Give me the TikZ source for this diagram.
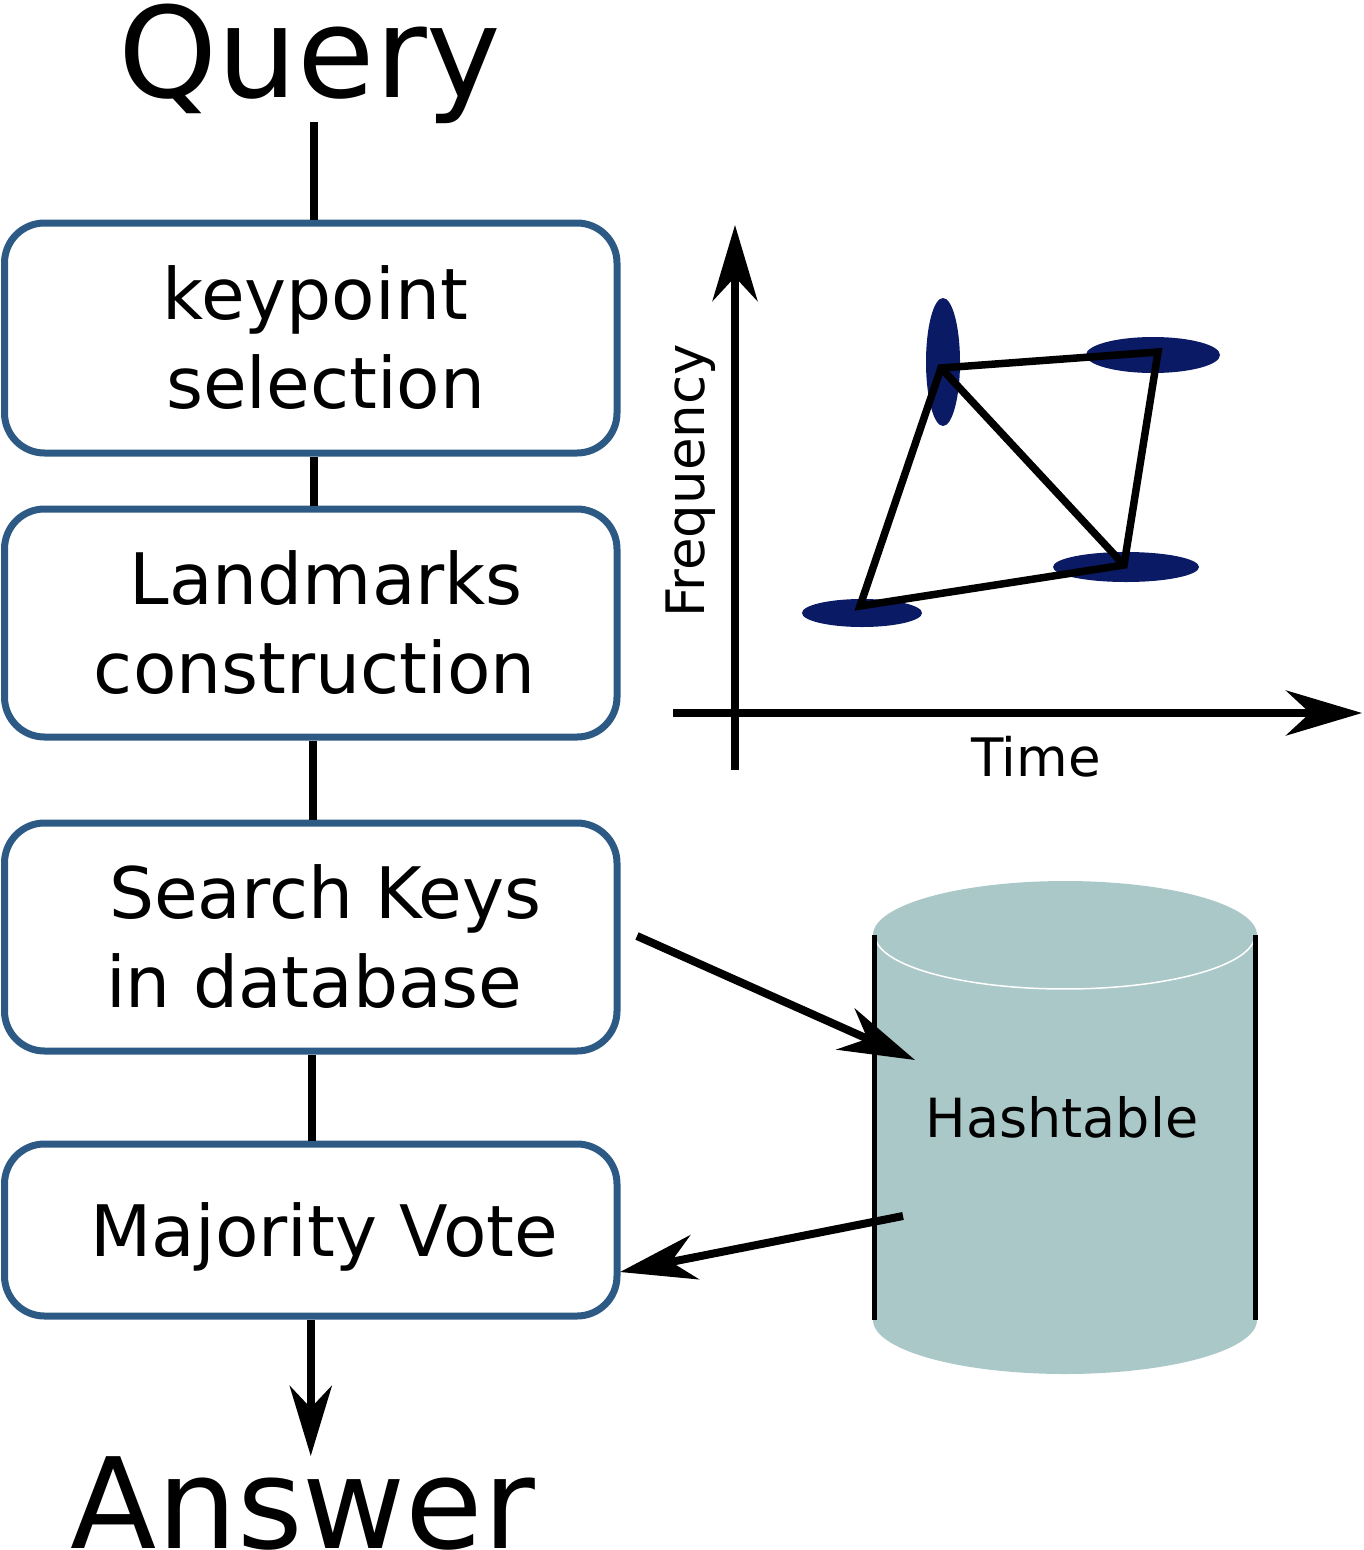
\documentclass[tikz,border=0pt]{standalone}
\usepackage{fontspec}
\setmainfont{DejaVu Sans}
\usetikzlibrary{arrows.meta,shapes.geometric}
\definecolor{boxblue}{HTML}{2D5A85}
\definecolor{navy}{HTML}{0A1A64}
\definecolor{cyl}{HTML}{ABC8C8}
\tikzset{
  stepbox/.style={draw=boxblue, line width=7pt, rounded corners=40pt, minimum width=612.5pt, inner sep=0pt, align=center,
    font=\fontsize{71}{89}\selectfont},
  conn/.style={line width=8pt},
  arr/.style={line width=8pt, -{Stealth[length=76pt,width=45pt,inset=24pt]}},
  blob/.style={ellipse, fill=navy, inner sep=0pt},
  big/.style={font=\fontsize{126}{150}\selectfont, inner sep=0pt, anchor=base},
  small/.style={font=\fontsize{53}{64}\selectfont, inner sep=0pt, anchor=base},
}
\begin{document}
\begin{tikzpicture}[x=1pt,y=-1pt]
\useasboundingbox (0,0) rectangle (1363,1550);

% pipeline
\node[big] (query) at (310,97) {Query};
\node[big] (answer) at (303,1548) {Answer};
\node[stepbox, minimum height=230pt] (b1) at (310.75,338) {\hspace*{9pt}keypoint\\\hspace*{30pt}selection};
\node[stepbox, minimum height=228pt] (b2) at (310.75,623) {\hspace*{31pt}Landmarks\\\hspace*{8pt}construction};
\node[stepbox, minimum height=228pt] (b3) at (310.75,937) {\hspace*{29pt}Search Keys\\\hspace*{7pt}in database};
\node[stepbox, minimum height=172pt, text depth=0pt] (b4) at (310.75,1230) {\hspace*{27pt}Majority Vote};

\draw[conn] ([xshift=4pt,yshift=1pt]query.south) -- ([xshift=4pt]query.south |- b1.north);
\draw[conn] ([xshift=3pt]b1.south) -- ([xshift=3pt]b2.north);
\draw[conn] ([xshift=2pt]b2.south) -- ([xshift=2pt]b3.north);
\draw[conn] ([xshift=1pt]b3.south) -- ([xshift=1pt]b4.north);
\draw[line width=8pt, -{Stealth[length=70pt,width=42pt,inset=22pt]}] (b4.south) -- (b4.south |- answer.north);

% database cylinder
\fill[cyl] (873,935) -- (873,1320)
  -- plot[domain=0:180,samples=72] ({1065+192*cos(180-\x)},{1320+54*sin(\x)})
  -- (1257,935)
  -- plot[domain=0:180,samples=72] ({1065+192*cos(\x)},{935-54*sin(\x)})
  -- cycle;
\draw[white, line width=1.5pt] plot[domain=3:177,samples=72] ({1065+190*cos(180-\x)},{935+54*sin(\x)});
\draw[line width=4.3pt] (874.5,935) -- (874.5,1320);
\draw[line width=4.3pt] (1255.5,935) -- (1255.5,1320);
\node[small, font=\fontsize{54}{64}\selectfont] (hash) at (1062,1137) {Hashtable};

\coordinate (s3) at (637,936);
\coordinate (kin) at (915,1060);
\coordinate (kout) at (903,1216);
\coordinate (v4) at (620,1272);
\draw[arr] (s3) -- (kin);
\draw[arr] (kout) -- (v4);

% spectrogram plot
\coordinate (yb) at (735,770);
\coordinate (yt) at (735,225);
\coordinate (xl) at (673,713);
\coordinate (xr) at (1362,713);
\draw[arr] (yb) -- (yt);
\draw[arr] (xl) -- (xr);
\node[small] (time) at (1036,776) {Time};
\node[small, rotate=90] (freq) at (704,481) {Frequency};

\node[blob, minimum width=120pt, minimum height=28pt] (e1) at (862,613) {};
\node[blob, minimum width=34pt, minimum height=128pt] (e2) at (943,362) {};
\node[blob, minimum width=134pt, minimum height=36pt] (e3) at (1153,355) {};
\node[blob, minimum width=146pt, minimum height=30pt] (e4) at (1126,567) {};

\coordinate (p1) at (860,606);
\coordinate (p2) at (941,368);
\coordinate (p3) at (1158,352);
\coordinate (p4) at (1124,565);
\draw[line width=7.5pt, line join=miter] (p1) -- (p2) -- (p3) -- (p4) -- cycle;
\draw[line width=7.5pt] (p2) -- (p4);
\end{tikzpicture}
\end{document}
